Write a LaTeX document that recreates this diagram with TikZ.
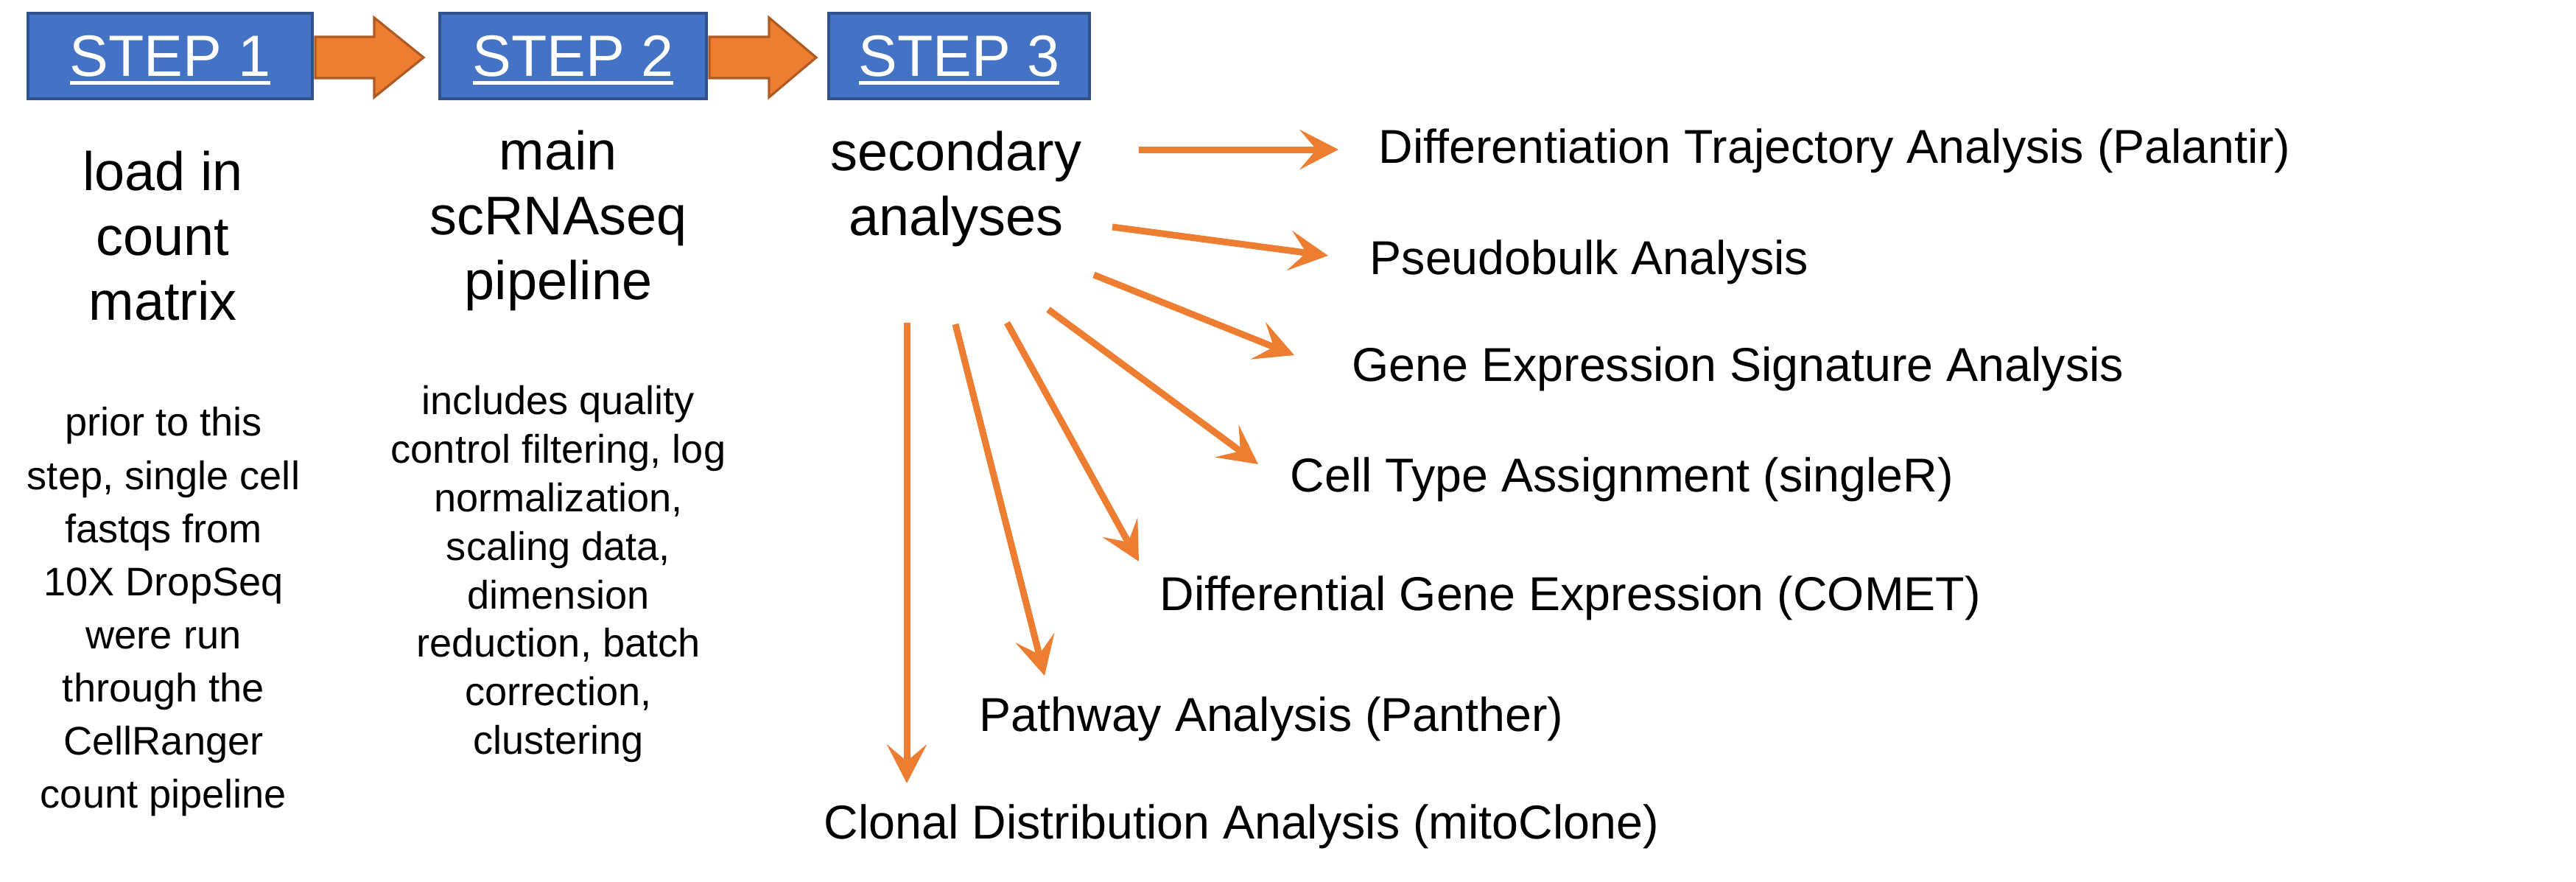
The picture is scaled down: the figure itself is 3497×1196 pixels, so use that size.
\documentclass[tikz,border=0pt]{standalone}
\usepackage{fontspec}
\setmainfont{Liberation Sans}
\usetikzlibrary{arrows.meta, calc}

\definecolor{passoblu}{HTML}{4472C4}
\definecolor{passobordo}{HTML}{2F528F}
\definecolor{arancio}{HTML}{ED7D31}
\definecolor{aranciobordo}{HTML}{AE5A21}

\tikzset{
  passo/.style={draw=passobordo, line width=1.1pt, fill=passoblu, text=white,
    minimum height=1.16cm, inner sep=0pt,
    font=\fontsize{22.5}{27}\selectfont},
  titolo/.style={align=center, anchor=north, inner sep=0pt, font=\fontsize{21}{25}\selectfont},
  nota/.style={align=center, anchor=north, inner sep=0pt, font=\fontsize{15.4}{18.7}\selectfont},
  analisi/.style={anchor=base west, inner sep=0pt, font=\fontsize{18.35}{22}\selectfont},
  freccia/.style={draw=arancio, line width=2.56pt, -{Stealth[length=15pt, width=15.4pt, inset=6.5pt]}},
  blocco/.style={fill=arancio, draw=aranciobordo, line width=0.9pt}
}

\begin{document}
\begin{tikzpicture}[x=0.01cm, y=-0.01cm]
  \useasboundingbox (0,0) rectangle (3497,1196);

  % Riquadri dei passi
  \foreach \n/\cx/\w in {1/231/3.86cm, 2/778/3.61cm, 3/1302/3.53cm} {
    \node[passo, minimum width=\w] (b\n) at (\cx,76) {STEP \n};
    \draw[white, line width=1.4pt] ($(b\n.base)+(-136,9)$) -- ($(b\n.base)+(136,9)$);
  }

  % Frecce a blocco tra i passi
  \foreach \ax/\bx/\tx in {428/508/575, 963/1044/1108}
    \draw[blocco] (\ax,50) -- (\bx,50) -- (\bx,24) -- (\tx,78) -- (\bx,132) -- (\bx,106) -- (\ax,106) -- cycle;

  % Titoli
  \node[titolo] (t1) at (221,204) {load in\\count\\matrix};
  \node[titolo] (t2) at (758,176) {main\\scRNAseq\\pipeline};
  \node[titolo] (t3) at (1298,177) {secondary\\analyses};

  % Note
  \node[nota, font=\fontsize{15.4}{20.5}\selectfont] (d1) at (222,552) {prior to this\\step, single cell\\fastqs from\\10X DropSeq\\were run\\through the\\CellRanger\\count pipeline};
  \node[nota] (d2) at (758,523) {includes quality\\control filtering, log\\normalization,\\scaling data,\\dimension\\reduction, batch\\correction,\\clustering};

  % Analisi secondarie
  \node[analisi] (l1) at (1871,221) {Differentiation Trajectory Analysis (Palantir)};
  \node[analisi] (l2) at (1859,372) {Pseudobulk Analysis};
  \node[analisi] (l3) at (1835,517) {Gene Expression Signature Analysis};
  \node[analisi] (l4) at (1751,667) {Cell Type Assignment (singleR)};
  \node[analisi] (l5) at (1574,828) {Differential Gene Expression (COMET)};
  \node[analisi] (l6) at (1329,992) {Pathway Analysis (Panther)};
  \node[analisi] (l7) at (1118,1138) {Clonal Distribution Analysis (mitoClone)};

  % Punti di partenza e di arrivo
  \coordinate (s1) at (1546,203);  \coordinate (e1) at (1817,203);
  \coordinate (s2) at (1510,308);  \coordinate (e2) at (1803,347);
  \coordinate (s3) at (1485,373);  \coordinate (e3) at (1757,482);
  \coordinate (s4) at (1423,420);  \coordinate (e4) at (1708,630);
  \coordinate (s5) at (1367,438);  \coordinate (e5) at (1546,762);
  \coordinate (s6) at (1297,440);  \coordinate (e6) at (1418,917);
  \coordinate (s7) at (1231,438);  \coordinate (e7) at (1231,1063);

  % Linee di connessione
  \foreach \i in {1,...,7}
    \draw[freccia] (s\i) -- (e\i);
\end{tikzpicture}
\end{document}
